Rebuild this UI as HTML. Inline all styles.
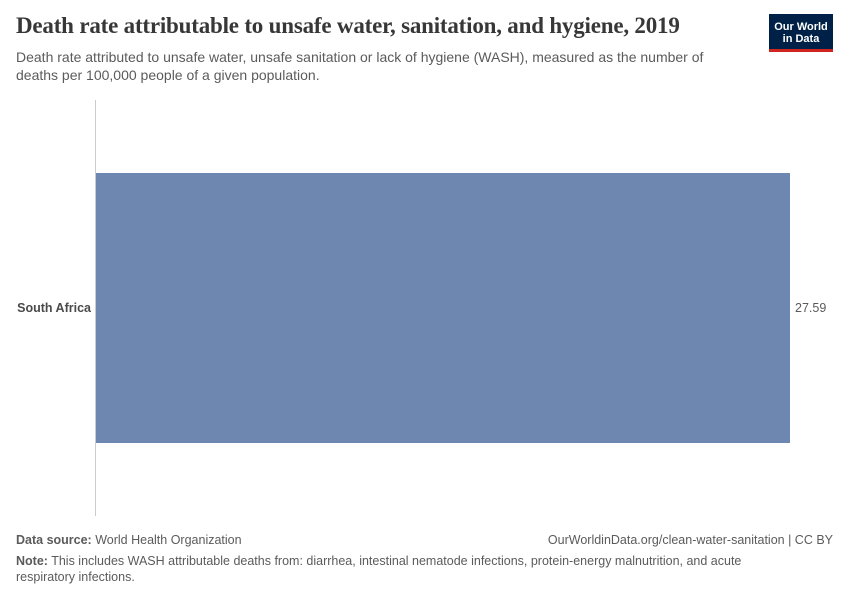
<!DOCTYPE html>
<html><head><meta charset="utf-8"><style>
body{margin:0;width:850px;height:600px;background:#fff;font-family:"Liberation Sans",sans-serif;position:relative;overflow:hidden}
.a{position:absolute;margin:0}
</style></head><body>
<h1 class="a" style="left:16px;top:13px;font-family:'Liberation Serif',serif;font-size:23px;font-weight:bold;color:#373737;letter-spacing:-0.2px">Death rate attributable to unsafe water, sanitation, and hygiene, 2019</h1>
<p class="a" style="left:16px;top:48px;font-size:14px;line-height:18px;color:#5b5b5b;width:730px">Death rate attributed to unsafe water, unsafe sanitation or lack of hygiene (WASH), measured as the number of deaths per 100,000 people of a given population.</p>
<div class="a" style="left:769px;top:14px;width:64px;height:38px;background:#002147;border-bottom:3px solid #ce261e;box-sizing:border-box;color:#fff;font-size:11px;font-weight:bold;text-align:center;line-height:12px;padding-top:7px">Our World<br>in Data</div>
<svg class="a" style="left:0;top:0" width="850" height="600">
<line x1="95.5" y1="100" x2="95.5" y2="516" stroke="#ccc"/>
<g id="bars"></g>
</svg>
<p class="a" style="left:16px;top:533px;font-size:12.5px;color:#5b5b5b"><b>Data source:</b> World Health Organization</p>
<p class="a" style="right:17px;top:533px;font-size:12.5px;color:#5b5b5b">OurWorldinData.org/clean-water-sanitation | CC BY</p>
<p class="a" style="left:16px;top:554px;font-size:12.5px;line-height:15.5px;color:#5b5b5b;width:760px"><b>Note:</b> This includes WASH attributable deaths from: diarrhea, intestinal nematode infections, protein-energy malnutrition, and acute respiratory infections.</p>
<script>
const categories=["South Africa"];
const values=[27.59];
const valueLabels=["27.59"];
const xMax=27.59;
function x(v){return 96+v/xMax*694;}
const g=document.getElementById('bars');
const ns="http://www.w3.org/2000/svg";
const top0=173,bandH=270;
categories.forEach((c,i)=>{
 const y0=top0+i*bandH;
 const r=document.createElementNS(ns,'rect');
 r.setAttribute('x',96);r.setAttribute('y',y0);r.setAttribute('width',x(values[i])-96);r.setAttribute('height',bandH);r.setAttribute('fill','#6d87b0');
 
 
 g.appendChild(r);
 const t=document.createElementNS(ns,'text');
 t.setAttribute('x',91);t.setAttribute('y',y0+bandH/2+4);t.setAttribute('text-anchor','end');t.setAttribute('font-size','12.5');t.setAttribute('font-weight','bold');t.setAttribute('fill','#4a4a4a');t.textContent=c;
 
 
 g.appendChild(t);
 const v=document.createElementNS(ns,'text');
 v.setAttribute('x',x(values[i])+5);v.setAttribute('y',y0+bandH/2+4);v.setAttribute('font-size','12.5');v.setAttribute('fill','#5b5b5b');v.textContent=valueLabels[i];
 
 
 g.appendChild(v);
});
</script>
</body></html>
